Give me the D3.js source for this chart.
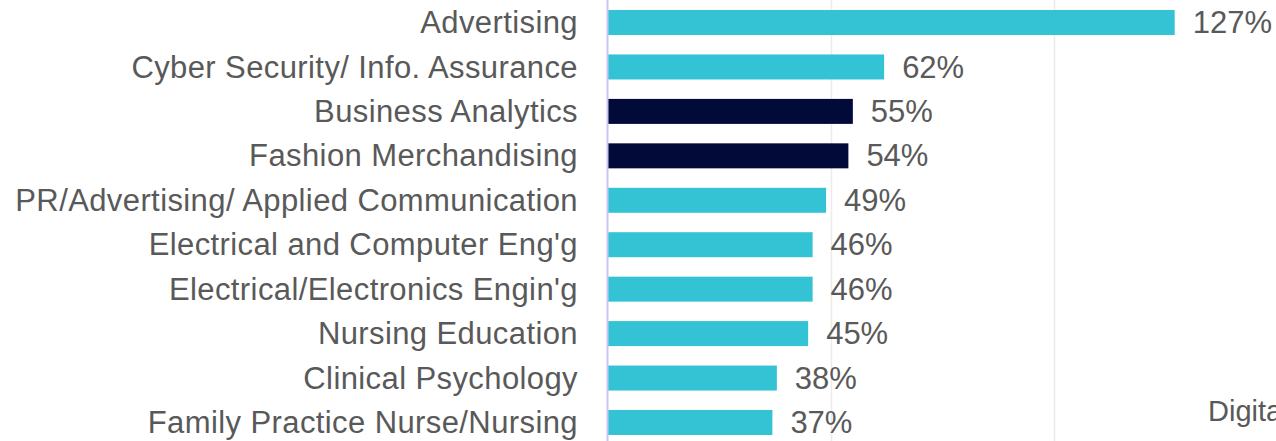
<!DOCTYPE html>
<html>
<head>
<meta charset="utf-8">
<script src="https://cdn.jsdelivr.net/npm/d3@7"></script>
<style>
  body { margin: 0; background: #fff; }
  svg { display: block; font-family: "Liberation Sans", Arial, sans-serif; }
</style>
</head>
<body>
<div id="chart"></div>
<script>
"use strict";

// data
var categories = ["Advertising", "Cyber Security/ Info. Assurance", "Business Analytics",
  "Fashion Merchandising", "PR/Advertising/ Applied Communication",
  "Electrical and Computer Eng'g", "Electrical/Electronics Engin'g",
  "Nursing Education", "Clinical Psychology", "Family Practice Nurse/Nursing"];
var growth = [1.27, 0.62, 0.55, 0.54, 0.49, 0.46, 0.46, 0.45, 0.38, 0.37];
var highlighted = ["Business Analytics", "Fashion Merchandising"];
var gridTicks = [0.5, 1.0, 1.5];

var width = 1276, height = 441;
var fontSize = "31px", spacing = "0.4px";

var svg = d3.select("#chart")
            .append("svg")
            .attr("width", width)
            .attr("height", height);

// scales
var x = d3.scaleLinear()
          .domain([0, 1.5])
          .range([607, 1277.5]);

var y = d3.scaleBand()
          .domain(categories)
          .range([0.3, 444.7])
          .paddingInner(0.4375)
          .paddingOuter(0.21875);

// gridlines
svg.selectAll(".grid")
   .data(gridTicks)
   .enter()
   .append("line")
   .attr("class", "grid")
   .attr("x1", function (d) { return Math.round(x(d)) + 0.5; })
   .attr("x2", function (d) { return Math.round(x(d)) + 0.5; })
   .attr("y1", 0)
   .attr("y2", height)
   .attr("stroke", "#ebebeb")
   .attr("stroke-width", 1.5);

// bars
svg.selectAll(".bar")
   .data(categories)
   .enter()
   .append("rect")
   .attr("class", "bar")
   .attr("x", x(0) + 1)
   .attr("y", function (d) { return y(d); })
   .attr("width", function (d, i) { return x(growth[i]) - x(0) - 1; })
   .attr("height", y.bandwidth())
   .attr("fill", function (d) {
     return highlighted.indexOf(d) >= 0 ? "#020a3a" : "#33c3d4";
   });

// category axis
var yaxis = d3.axisLeft(y).tickSize(0).tickPadding(29);
var ag = svg.append("g")
            .attr("transform", "translate(" + x(0) + ",0)")
            .call(yaxis);
ag.select(".domain")
  .attr("d", "M0.5,0V" + height)
  .attr("stroke", "#c5c8f5")
  .attr("stroke-width", 2);
ag.selectAll(".tick text")
  .attr("fill", "#595959")
  .style("font-size", fontSize)
  .style("letter-spacing", spacing)
  .style("font-family", "'Liberation Sans', Arial, sans-serif")
  .attr("dy", "0.34em");

// value labels
svg.selectAll(".val")
   .data(categories)
   .enter()
   .append("text")
   .attr("class", "val")
   .attr("x", function (d, i) { return x(growth[i]) + 18; })
   .attr("y", function (d) { return y(d) + y.bandwidth() / 2; })
   .attr("dy", "0.34em")
   .attr("fill", "#595959")
   .style("font-size", fontSize)
   .text(function (d, i) { return Math.round(growth[i] * 100) + "%"; });

// legend text cut off by the right edge, as in the picture
svg.append("text")
   .attr("x", 1208)
   .attr("y", 421)
   .attr("fill", "#595959")
   .style("font-size", "29px")
   .text("Digital");
</script>
</body>
</html>
